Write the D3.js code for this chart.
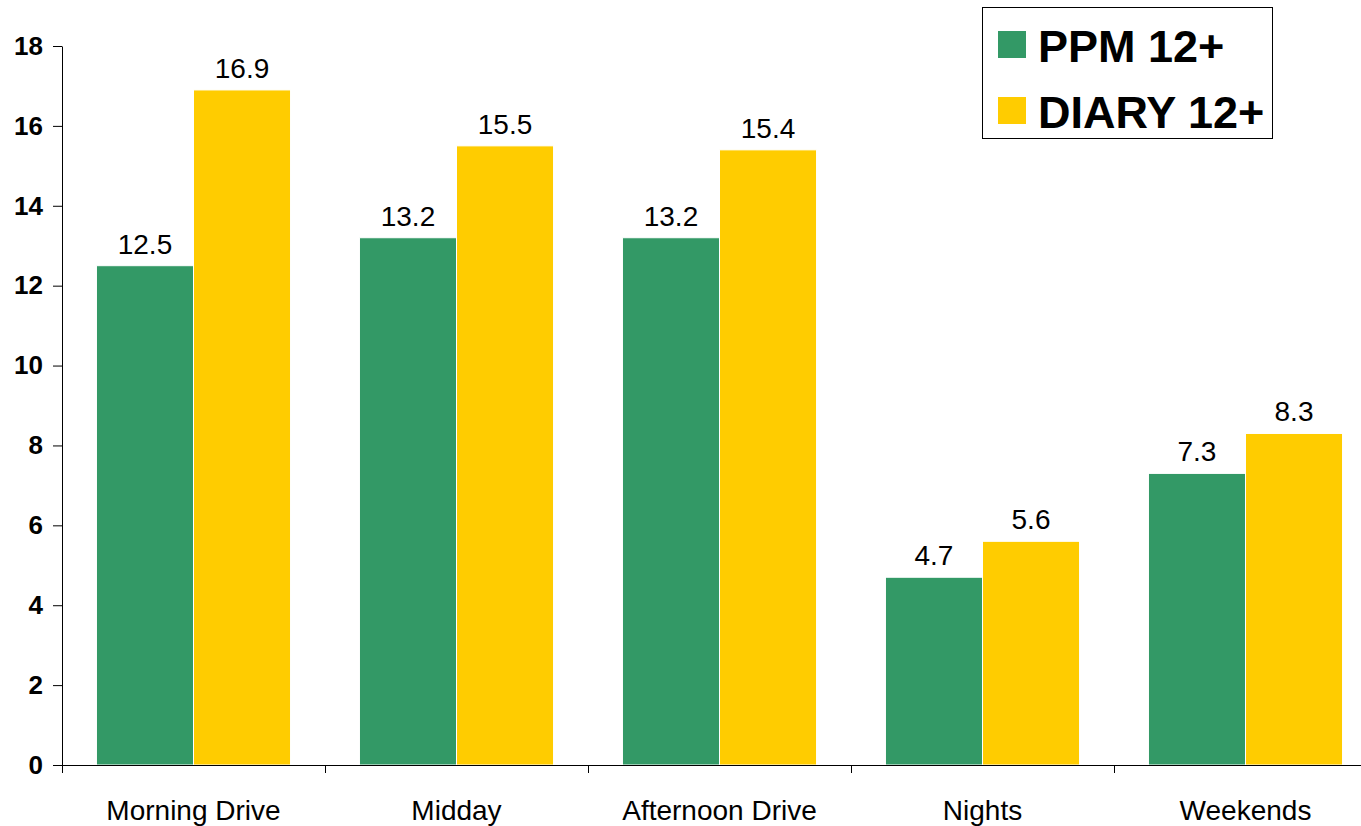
<!DOCTYPE html>
<html>
<head>
<meta charset="utf-8">
<script src="https://cdn.jsdelivr.net/npm/d3@7"></script>
<style>
body{margin:0;background:#fff;}
text{font-family:"Liberation Sans",Arial,sans-serif;}
</style>
</head>
<body>
<div id="plot"></div>
<script>
// data
var categories = ['Morning Drive','Midday','Afternoon Drive','Nights','Weekends'];
var series = ['PPM 12+','DIARY 12+'];
var ppm = [12.5, 13.2, 13.2, 4.7, 7.3];
var diary = [16.9, 15.5, 15.4, 5.6, 8.3];
var yTicks = [0,2,4,6,8,10,12,14,16,18];
var colors = ['#339966','#FFCC00'];

var W = 1361, H = 826;
// plot box (the right end runs off the picture, as in the original)
var plotL = 62, plotR = 1377, plotT = 46, plotB = 765;

var svg = d3.select('#plot')
	.append('svg')
	.attr('width',W)
	.attr('height',H);

var y = d3.scaleLinear().domain([0,18]).range([plotB,plotT]);

var x0 = d3.scaleBand()
	.domain(categories)
	.range([plotL,plotR])
	.paddingInner(0.262)
	.paddingOuter(0.131);

var x1 = d3.scaleBand()
	.domain(series)
	.range([0,x0.bandwidth()]);

// edges between categories, used for the x axis ticks
var xEdge = d3.scaleLinear().domain([0,categories.length]).range([plotL,plotR]);

var rows = categories.map(function(c,i){
	return {cat:c, vals:[{s:series[0],v:ppm[i]},{s:series[1],v:diary[i]}]};
});

var groups = svg.selectAll('g.grp')
	.data(rows)
	.enter()
	.append('g')
	.attr('class','grp')
	.attr('transform',function(d){return 'translate('+x0(d.cat)+',0)';});

groups.selectAll('rect')
	.data(function(d){return d.vals;})
	.enter()
	.append('rect')
	.attr('x',function(d){return x1(d.s);})
	.attr('y',function(d){return y(d.v);})
	.attr('width',x1.bandwidth())
	.attr('height',function(d){return y(0)-y(d.v);})
	.style('fill',function(d,i){return colors[i];})
	.style('stroke','#fff')
	.style('stroke-width',1);

groups.selectAll('text.val')
	.data(function(d){return d.vals;})
	.enter()
	.append('text')
	.attr('class','val')
	.attr('x',function(d){return x1(d.s)+x1.bandwidth()/2;})
	.attr('y',function(d){return y(d.v)-12;})
	.attr('text-anchor','middle')
	.style('font-size','28px')
	.style('fill','#000')
	.text(function(d){return d.v.toFixed(1);});

// y axis
var yAxis = svg.append('g')
	.attr('transform','translate('+plotL+',0)')
	.call(d3.axisLeft(y).tickValues(yTicks).tickSize(9).tickSizeOuter(0).tickPadding(10));
yAxis.selectAll('text')
	.style('font-size','26px')
	.style('font-weight','bold')
	.style('fill','#000')
	.style('font-family','"Liberation Sans",Arial,sans-serif');
yAxis.selectAll('line,path').style('stroke','#000');

// x axis
var xAxis = svg.append('g')
	.attr('transform','translate(0,'+plotB+')')
	.call(d3.axisBottom(xEdge).ticks(categories.length).tickSize(8).tickSizeOuter(0).tickFormat(''));
xAxis.selectAll('line,path').style('stroke','#000');

svg.selectAll('text.cat')
	.data(categories)
	.enter()
	.append('text')
	.attr('class','cat')
	.attr('x',function(d){return x0(d)+x0.bandwidth()/2;})
	.attr('y',820)
	.attr('text-anchor','middle')
	.style('font-size','28px')
	.style('fill','#000')
	.text(function(d){return d;});

// legend
var legend = svg.append('g');
legend.append('rect')
	.attr('x',982.5).attr('y',7.5)
	.attr('width',290).attr('height',131)
	.style('fill','#fff')
	.style('stroke','#000')
	.style('stroke-width',1);

var li = legend.selectAll('g.item')
	.data(series)
	.enter()
	.append('g')
	.attr('class','item')
	.attr('transform',function(d,i){return 'translate(998,'+(31+i*66)+')';});
li.append('rect')
	.attr('width',28).attr('height',27)
	.style('fill',function(d,i){return colors[i];});
li.append('text')
	.attr('x',40).attr('y',31)
	.style('font-size','45px')
	.style('font-weight','bold')
	.style('fill','#000')
	.text(function(d){return d;});
</script>
</body>
</html>
